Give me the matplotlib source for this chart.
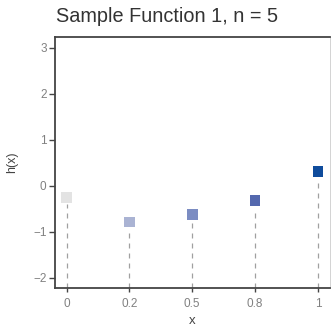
import matplotlib.pyplot as plt
import matplotlib

matplotlib.rcParams['font.family'] = ['Liberation Sans', 'DejaVu Sans']

# data
x_vals = [0, 0.25, 0.5, 0.75, 1]
x_labels = ['0', '0.2', '0.5', '0.8', '1']
h_vals = [-0.26, -0.79, -0.63, -0.33, 0.30]
colors = ['#e3e3e3', '#aab3d3', '#7b8cc2', '#5468ae', '#0f4c9c']

fig = plt.figure(figsize=(3.31, 3.27), dpi=100)
ax = fig.add_axes([0.166, 0.119, 0.831, 0.768])

ymin, ymax = -2.23, 3.23
ax.set_ylim(ymin, ymax)
ax.set_xlim(-0.046, 1.048)

# dashed drop lines
for x, h in zip(x_vals, h_vals):
    ax.plot([x, x], [ymin, h - 0.15], color='#a0a0a0', linewidth=0.9,
            linestyle=(0, (4, 4)), zorder=1)

ax.scatter(x_vals, h_vals, marker='s', s=58, c=colors, edgecolors='none', zorder=3)

ax.set_xticks(x_vals)
ax.set_xticklabels(x_labels)
ax.set_yticks([-2, -1, 0, 1, 2, 3])

for s in ['left', 'bottom', 'top']:
    ax.spines[s].set_color('#444444')
    ax.spines[s].set_linewidth(1.3)
ax.spines['right'].set_color('#cccccc')
ax.spines['right'].set_linewidth(0.6)

ax.tick_params(axis='y', length=4, width=1, color='#444444', labelsize=8.5,
               labelcolor='#808080', pad=2)
ax.tick_params(axis='x', length=3, width=1, color='#444444', labelsize=8.5,
               labelcolor='#808080', pad=4)

ax.set_xlabel('x', fontsize=9.5, color='#444444', labelpad=4)
ax.set_ylabel('h(x)', fontsize=9, color='#444444', labelpad=11)
fig.text(0.505, 1 - 17 / 327, 'Sample Function 1, n = 5', fontsize=14.3,
         color='#333333', ha='center', va='center')

plt.savefig('out.png', dpi=100, facecolor='white')
plt.close()
